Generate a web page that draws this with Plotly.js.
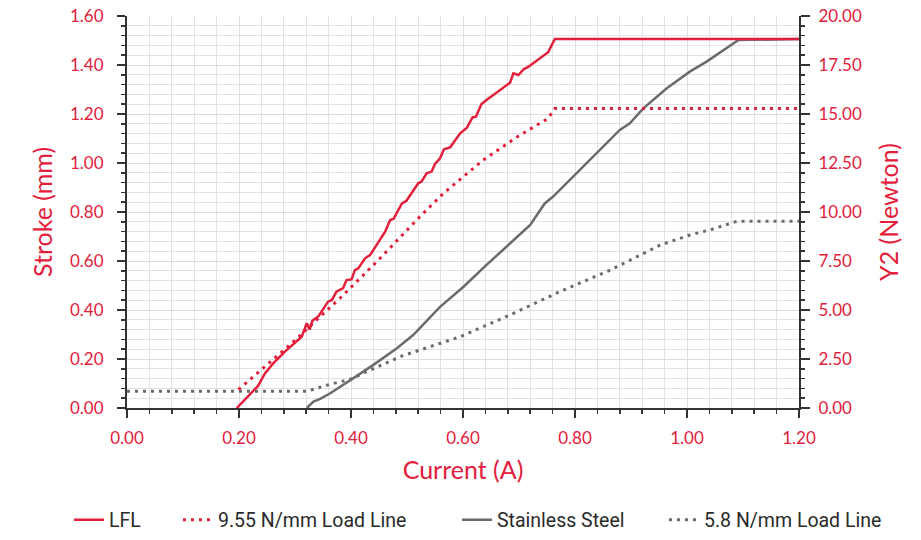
<!DOCTYPE html>
<html>
<head>
<meta charset="utf-8">
<script src="https://cdn.plot.ly/plotly-3.0.1.min.js"></script>
<style>html,body{margin:0;padding:0;background:#fff;}#chart{width:921px;height:540px;}</style>
</head>
<body>
<div id="chart"></div>
<script>
// LFL stroke (mm) vs current (A)
const lflCurrent = [0.196,0.234,0.246,0.261,0.282,0.312,0.321,0.326,0.331,0.342,0.359,0.366,0.374,0.386,0.392,0.401,0.407,0.413,0.425,0.434,0.461,0.470,0.476,0.491,0.499,0.520,0.526,0.535,0.544,0.550,0.559,0.566,0.577,0.595,0.607,0.617,0.623,0.633,0.642,0.684,0.690,0.699,0.708,0.717,0.752,0.764,1.20];
const lflStroke  = [0.000,0.090,0.140,0.182,0.230,0.291,0.346,0.320,0.356,0.375,0.434,0.441,0.475,0.489,0.522,0.525,0.563,0.570,0.611,0.624,0.720,0.767,0.772,0.835,0.846,0.917,0.924,0.958,0.965,0.996,1.019,1.056,1.064,1.121,1.144,1.186,1.189,1.241,1.257,1.328,1.366,1.359,1.382,1.393,1.452,1.506,1.506];

// 9.55 N/mm load line
const load955Current = [0.199,0.243,0.294,0.383,0.446,0.523,0.565,0.636,0.684,0.699,0.752,0.764,1.20];
const load955Stroke  = [0.075,0.162,0.264,0.454,0.597,0.781,0.876,1.012,1.087,1.110,1.182,1.222,1.222];

// Stainless steel
const ssCurrent = [0.321,0.333,0.345,0.363,0.401,0.440,0.482,0.511,0.559,0.601,0.642,0.684,0.720,0.732,0.746,0.761,0.797,0.839,0.880,0.898,0.922,0.964,1.005,1.035,1.062,1.092,1.20];
const ssStroke  = [0.000,0.026,0.037,0.060,0.117,0.176,0.244,0.298,0.413,0.495,0.584,0.672,0.747,0.788,0.835,0.863,0.944,1.039,1.135,1.162,1.223,1.305,1.373,1.414,1.454,1.502,1.506];

// 5.8 N/mm load line
const load58Current = [0.000,0.321,0.363,0.398,0.488,0.595,0.684,0.773,0.863,0.952,1.005,1.041,1.089,1.20];
const load58Stroke  = [0.068,0.068,0.097,0.117,0.210,0.291,0.380,0.475,0.563,0.665,0.706,0.727,0.762,0.762];

const legendNames = ['LFL','9.55 N/mm Load Line','Stainless Steel','5.8 N/mm Load Line'];

const RED = '#e2203c';
const GREY = '#6b6b6e';
const TXT = '#e2203c';
const font = 'Lato, "Open Sans", sans-serif';
const legFont = {family: 'Roboto, sans-serif', size: 19.5, color: '#2a2a2a'};

function leg(xpx) {
  return {orientation: 'h', xref: 'container', yref: 'container', x: xpx / 921, xanchor: 'left',
          y: 20 / 540, yanchor: 'middle', font: legFont, itemwidth: 30, bgcolor: 'rgba(0,0,0,0)', borderwidth: 0};
}

const traces = [
  {x: ssCurrent, y: ssStroke, name: legendNames[2], type: 'scatter', mode: 'lines',
   line: {color: GREY, width: 2.5}, legend: 'legend3'},
  {x: load58Current, y: load58Stroke, name: legendNames[3], type: 'scatter', mode: 'lines',
   line: {color: GREY, width: 3, dash: '3px,5px'}, legend: 'legend4'},
  {x: load955Current, y: load955Stroke, name: legendNames[1], type: 'scatter', mode: 'lines',
   line: {color: RED, width: 3, dash: '3px,5px'}, legend: 'legend2'},
  {x: lflCurrent, y: lflStroke, name: legendNames[0], type: 'scatter', mode: 'lines',
   line: {color: RED, width: 2.5}, legend: 'legend'},
  {x: [0], y: [0], yaxis: 'y2', type: 'scatter', mode: 'markers', marker: {opacity: 0}, showlegend: false, hoverinfo: 'skip'}
];

const layout = {
  width: 921, height: 540,
  margin: {l: 127, r: 122, t: 16, b: 132},
  paper_bgcolor: '#fff', plot_bgcolor: '#fff',
  font: {family: font, color: TXT},
  showlegend: true,
  legend: leg(69),
  legend2: leg(178),
  legend3: leg(457),
  legend4: leg(664),
  xaxis: {
    range: [0, 1.2], dtick: 0.2, tick0: 0, tickformat: '.2f',
    ticks: 'outside', ticklen: 8, tickwidth: 1.5, tickcolor: '#333',
    showline: true, linecolor: '#333', linewidth: 2,
    showgrid: true, gridcolor: '#dedede', gridwidth: 1, zeroline: false,
    tickfont: {family: font, size: 17, color: TXT}, ticklabelstandoff: 6,
    minor: {dtick: 0.04, ticks: 'outside', ticklen: 4, tickcolor: '#333', showgrid: true, gridcolor: '#e2e2e2', gridwidth: 1},
    title: {text: 'Current (A)', font: {family: font, size: 25, color: TXT}, standoff: 14},
    automargin: false
  },
  yaxis: {
    range: [0, 1.6], dtick: 0.2, tick0: 0, tickformat: '.2f',
    ticks: 'outside', ticklen: 8, tickwidth: 1.5, tickcolor: '#333',
    showline: true, linecolor: '#333', linewidth: 2,
    showgrid: true, gridcolor: '#dedede', gridwidth: 1, zeroline: false,
    tickfont: {family: font, size: 17, color: TXT}, ticklabelstandoff: 10,
    minor: {dtick: 0.04, ticks: 'outside', ticklen: 4, tickcolor: '#333', showgrid: true, gridcolor: '#e2e2e2', gridwidth: 1},
    title: {text: 'Stroke (mm)', font: {family: font, size: 25, color: TXT}, standoff: 10},
    automargin: false
  },
  yaxis2: {
    range: [0, 20], dtick: 2.5, tick0: 0, tickformat: '.2f',
    overlaying: 'y', side: 'right',
    ticks: 'outside', ticklen: 9, tickwidth: 1.5, tickcolor: '#333',
    showline: true, linecolor: '#333', linewidth: 2,
    showgrid: false, zeroline: false,
    tickfont: {family: font, size: 17, color: TXT}, ticklabelstandoff: 5,
    minor: {dtick: 0.5, ticks: 'outside', ticklen: 4, tickcolor: '#333', showgrid: false},
    title: {text: 'Y2 (Newton)', font: {family: font, size: 25, color: TXT}, standoff: 20},
    automargin: false
  }
};

Plotly.newPlot('chart', traces, layout, {displayModeBar: false, staticPlot: true});
</script>
</body>
</html>
